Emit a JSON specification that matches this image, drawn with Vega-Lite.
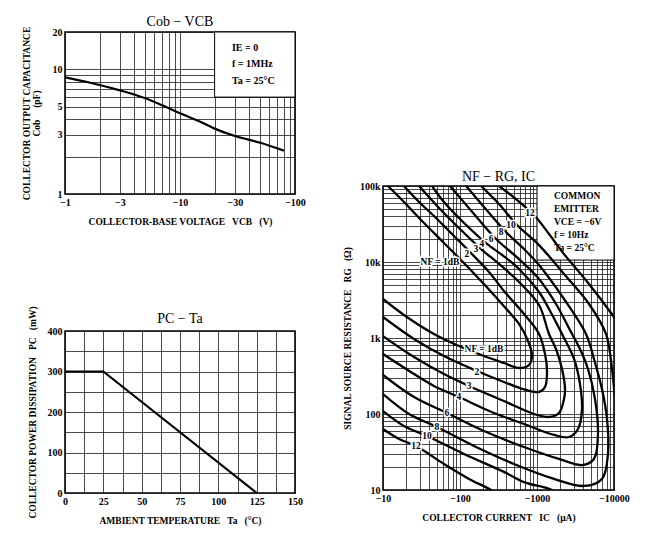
{
  "$schema": "https://vega.github.io/schema/vega-lite/v6.json",
  "background": "white",
  "padding": {"left": 20, "top": 14, "right": 5, "bottom": 5},
  "config": {
    "font": "Liberation Serif",
    "view": {"stroke": "black", "strokeWidth": 1.6},
    "axis": {
      "grid": true, "gridColor": "#1a1a1a", "gridOpacity": 1, "gridWidth": 0.8,
      "domain": false, "ticks": false,
      "labelFont": "Liberation Serif", "labelFontWeight": "bold", "labelFontSize": 10, "labelColor": "black",
      "labelPadding": 3, "labelFlush": false, "labelOverlap": false,
      "titleFont": "Liberation Serif", "titleFontWeight": "bold", "titleFontSize": 9.5, "titleColor": "black"
    },
    "title": {"font": "Liberation Serif", "fontSize": 14, "fontWeight": "normal", "color": "black", "offset": -3}
  },
  "datasets": {
    "cob": [
      {"x": 1, "y": 8.65}, {"x": 1.5, "y": 8.0}, {"x": 2, "y": 7.5}, {"x": 3, "y": 6.8}, {"x": 4, "y": 6.3},
      {"x": 5, "y": 5.87}, {"x": 7, "y": 5.16}, {"x": 10, "y": 4.45}, {"x": 15, "y": 3.8}, {"x": 20, "y": 3.35},
      {"x": 30, "y": 2.92}, {"x": 50, "y": 2.58}, {"x": 80, "y": 2.23}
    ],
    "cobBox": [{"x": 20, "x2": 100, "y": 6, "y2": 20}],
    "cobText": [
      {"x": 28.3, "y": 14.9, "t": "IE = 0"},
      {"x": 28.3, "y": 11.1, "t": "f = 1MHz"},
      {"x": 28.3, "y": 8.08, "t": "Ta = 25°C"}
    ],
    "pc": [{"x": 0, "y": 300}, {"x": 25, "y": 300}, {"x": 125, "y": 0}],
    "nfBox": [{"x": 1000, "x2": 10000, "y": 10600, "y2": 100000}],
    "nfText": [
      {"x": 1663, "y": 73800, "t": "COMMON"},
      {"x": 1663, "y": 50000, "t": "EMITTER"},
      {"x": 1663, "y": 33800, "t": "VCE = −6V"},
      {"x": 1663, "y": 22700, "t": "f = 10Hz"},
      {"x": 1663, "y": 15300, "t": "Ta = 25°C"}
    ],
    "nfLab": [
      {"x": 55, "y": 10000, "t": "NF = 1dB"},
      {"x": 123, "y": 12700, "t": "2"},
      {"x": 161, "y": 14800, "t": "3"},
      {"x": 193, "y": 17300, "t": "4"},
      {"x": 253, "y": 20100, "t": "6"},
      {"x": 341, "y": 24800, "t": "8"},
      {"x": 459, "y": 30700, "t": "10"},
      {"x": 811, "y": 44200, "t": "12"},
      {"x": 205, "y": 716, "t": "NF = 1dB"},
      {"x": 166, "y": 357, "t": "2"},
      {"x": 131, "y": 234, "t": "3"},
      {"x": 97, "y": 167, "t": "4"},
      {"x": 67.7, "y": 103, "t": "6"},
      {"x": 50.2, "y": 67.4, "t": "8"},
      {"x": 37.3, "y": 51.4, "t": "10"},
      {"x": 26.8, "y": 37.9, "t": "12"}
    ],
    "nf": [
      {"s": "1", "o": 1, "x": 11.6, "y": 100000}, {"s": "1", "o": 2, "x": 18.7, "y": 61600}, {"s": "1", "o": 3, "x": 34.1, "y": 32600},
      {"s": "1", "o": 4, "x": 61.9, "y": 17800}, {"s": "1", "o": 5, "x": 106, "y": 10300}, {"s": "1", "o": 6, "x": 193, "y": 5450},
      {"s": "1", "o": 7, "x": 351, "y": 2800}, {"s": "1", "o": 8, "x": 584, "y": 1530}, {"s": "1", "o": 9, "x": 764, "y": 914},
      {"s": "1", "o": 10, "x": 861, "y": 597}, {"s": "1", "o": 11, "x": 787, "y": 442}, {"s": "1", "o": 12, "x": 584, "y": 403},
      {"s": "1", "o": 13, "x": 372, "y": 469}, {"s": "1", "o": 14, "x": 205, "y": 579}, {"s": "1", "o": 15, "x": 97, "y": 785},
      {"s": "1", "o": 16, "x": 45.9, "y": 1130}, {"s": "1", "o": 17, "x": 18.7, "y": 2010}, {"s": "1", "o": 18, "x": 10, "y": 3260},

      {"s": "2", "o": 1, "x": 18.7, "y": 100000}, {"s": "2", "o": 2, "x": 29.4, "y": 61600}, {"s": "2", "o": 3, "x": 45.9, "y": 40300},
      {"s": "2", "o": 4, "x": 83.5, "y": 22000}, {"s": "2", "o": 5, "x": 143, "y": 12700}, {"s": "2", "o": 6, "x": 238, "y": 7390},
      {"s": "2", "o": 7, "x": 372, "y": 4160}, {"s": "2", "o": 8, "x": 678, "y": 2070}, {"s": "2", "o": 9, "x": 1062, "y": 1130},
      {"s": "2", "o": 10, "x": 1271, "y": 615}, {"s": "2", "o": 11, "x": 1349, "y": 368}, {"s": "2", "o": 12, "x": 1271, "y": 227},
      {"s": "2", "o": 13, "x": 1062, "y": 195}, {"s": "2", "o": 14, "x": 719, "y": 207}, {"s": "2", "o": 15, "x": 372, "y": 264},
      {"s": "2", "o": 16, "x": 166, "y": 368}, {"s": "2", "o": 17, "x": 61.9, "y": 579}, {"s": "2", "o": 18, "x": 25.3, "y": 970},
      {"s": "2", "o": 19, "x": 10, "y": 1890},

      {"s": "3", "o": 1, "x": 29.4, "y": 100000}, {"s": "3", "o": 2, "x": 53.4, "y": 51400}, {"s": "3", "o": 3, "x": 97, "y": 28000},
      {"s": "3", "o": 4, "x": 188, "y": 14800}, {"s": "3", "o": 5, "x": 321, "y": 9420}, {"s": "3", "o": 6, "x": 584, "y": 5450},
      {"s": "3", "o": 7, "x": 1062, "y": 2720}, {"s": "3", "o": 8, "x": 1432, "y": 1130}, {"s": "3", "o": 9, "x": 1766, "y": 716},
      {"s": "3", "o": 10, "x": 2113, "y": 391}, {"s": "3", "o": 11, "x": 2312, "y": 213}, {"s": "3", "o": 12, "x": 2244, "y": 158},
      {"s": "3", "o": 13, "x": 1932, "y": 103}, {"s": "3", "o": 14, "x": 1432, "y": 91.4}, {"s": "3", "o": 15, "x": 914, "y": 100},
      {"s": "3", "o": 16, "x": 372, "y": 148}, {"s": "3", "o": 17, "x": 131, "y": 234}, {"s": "3", "o": 18, "x": 61.9, "y": 336},
      {"s": "3", "o": 19, "x": 25.3, "y": 562}, {"s": "3", "o": 20, "x": 10, "y": 1060},

      {"s": "4", "o": 1, "x": 43.3, "y": 100000}, {"s": "4", "o": 2, "x": 61.9, "y": 61600}, {"s": "4", "o": 3, "x": 113, "y": 32600},
      {"s": "4", "o": 4, "x": 224, "y": 17300}, {"s": "4", "o": 5, "x": 351, "y": 12400}, {"s": "4", "o": 6, "x": 584, "y": 8100},
      {"s": "4", "o": 7, "x": 1062, "y": 4030}, {"s": "4", "o": 8, "x": 1432, "y": 2410}, {"s": "4", "o": 9, "x": 2113, "y": 1130},
      {"s": "4", "o": 10, "x": 3027, "y": 530}, {"s": "4", "o": 11, "x": 3617, "y": 248}, {"s": "4", "o": 12, "x": 3840, "y": 116},
      {"s": "4", "o": 13, "x": 3408, "y": 63.5}, {"s": "4", "o": 14, "x": 2606, "y": 49.8}, {"s": "4", "o": 15, "x": 1663, "y": 53},
      {"s": "4", "o": 16, "x": 678, "y": 73.9}, {"s": "4", "o": 17, "x": 277, "y": 103}, {"s": "4", "o": 18, "x": 97, "y": 167},
      {"s": "4", "o": 19, "x": 45.9, "y": 234}, {"s": "4", "o": 20, "x": 25.3, "y": 336}, {"s": "4", "o": 21, "x": 10, "y": 615},

      {"s": "6", "o": 1, "x": 74.1, "y": 100000}, {"s": "6", "o": 2, "x": 152, "y": 42900}, {"s": "6", "o": 3, "x": 294, "y": 20100},
      {"s": "6", "o": 4, "x": 584, "y": 10900}, {"s": "6", "o": 5, "x": 1062, "y": 5970}, {"s": "6", "o": 6, "x": 1766, "y": 2800},
      {"s": "6", "o": 7, "x": 2851, "y": 1130}, {"s": "6", "o": 8, "x": 3617, "y": 716}, {"s": "6", "o": 9, "x": 4593, "y": 391},
      {"s": "6", "o": 10, "x": 5662, "y": 158}, {"s": "6", "o": 11, "x": 6194, "y": 54.6}, {"s": "6", "o": 12, "x": 5495, "y": 25.6},
      {"s": "6", "o": 13, "x": 3840, "y": 21.3}, {"s": "6", "o": 14, "x": 1932, "y": 25.6}, {"s": "6", "o": 15, "x": 678, "y": 36.8},
      {"s": "6", "o": 16, "x": 205, "y": 59.8}, {"s": "6", "o": 17, "x": 67.7, "y": 103}, {"s": "6", "o": 18, "x": 25.3, "y": 167},
      {"s": "6", "o": 19, "x": 10, "y": 326},

      {"s": "8", "o": 1, "x": 120, "y": 100000}, {"s": "8", "o": 2, "x": 205, "y": 52900}, {"s": "8", "o": 3, "x": 395, "y": 24800},
      {"s": "8", "o": 4, "x": 678, "y": 14800}, {"s": "8", "o": 5, "x": 1062, "y": 9140}, {"s": "8", "o": 6, "x": 2244, "y": 3260},
      {"s": "8", "o": 7, "x": 4327, "y": 1130}, {"s": "8", "o": 8, "x": 5495, "y": 530}, {"s": "8", "o": 9, "x": 6982, "y": 213},
      {"s": "8", "o": 10, "x": 8110, "y": 86}, {"s": "8", "o": 11, "x": 8356, "y": 29.8}, {"s": "8", "o": 12, "x": 6982, "y": 14},
      {"s": "8", "o": 13, "x": 4076, "y": 11.3}, {"s": "8", "o": 14, "x": 1663, "y": 14}, {"s": "8", "o": 15, "x": 502, "y": 22},
      {"s": "8", "o": 16, "x": 152, "y": 37.9}, {"s": "8", "o": 17, "x": 50.2, "y": 67.4}, {"s": "8", "o": 18, "x": 21.8, "y": 100},
      {"s": "8", "o": 19, "x": 10, "y": 183},

      {"s": "10a", "o": 1, "x": 188, "y": 100000}, {"s": "10a", "o": 2, "x": 321, "y": 57900}, {"s": "10a", "o": 3, "x": 550, "y": 30700},
      {"s": "10a", "o": 4, "x": 1062, "y": 16700}, {"s": "10a", "o": 5, "x": 2244, "y": 6950}, {"s": "10a", "o": 6, "x": 4732, "y": 2800},
      {"s": "10a", "o": 7, "x": 7870, "y": 1130}, {"s": "10a", "o": 8, "x": 9418, "y": 391}, {"s": "10a", "o": 9, "x": 10620, "y": 116},
      {"s": "10a", "o": 10, "x": 12000, "y": 40},

      {"s": "10b", "o": 1, "x": 2244, "y": 7.6}, {"s": "10b", "o": 2, "x": 1567, "y": 10}, {"s": "10b", "o": 3, "x": 678, "y": 12.7},
      {"s": "10b", "o": 4, "x": 372, "y": 17.3}, {"s": "10b", "o": 5, "x": 113, "y": 29.8}, {"s": "10b", "o": 6, "x": 37.3, "y": 51.4},
      {"s": "10b", "o": 7, "x": 18.7, "y": 69.5}, {"s": "10b", "o": 8, "x": 10, "y": 109},

      {"s": "12a", "o": 1, "x": 321, "y": 100000}, {"s": "12a", "o": 2, "x": 533, "y": 67400}, {"s": "12a", "o": 3, "x": 914, "y": 41500},
      {"s": "12a", "o": 4, "x": 1432, "y": 23400}, {"s": "12a", "o": 5, "x": 2244, "y": 12700}, {"s": "12a", "o": 6, "x": 4732, "y": 5140},
      {"s": "12a", "o": 7, "x": 10000, "y": 1890}, {"s": "12a", "o": 8, "x": 15670, "y": 970},

      {"s": "12b", "o": 1, "x": 372, "y": 7.6}, {"s": "12b", "o": 2, "x": 253, "y": 10}, {"s": "12b", "o": 3, "x": 131, "y": 14},
      {"s": "12b", "o": 4, "x": 61.9, "y": 22}, {"s": "12b", "o": 5, "x": 26.8, "y": 37.9}, {"s": "12b", "o": 6, "x": 16.2, "y": 46.9},
      {"s": "12b", "o": 7, "x": 10, "y": 63.5}
    ]
  },
  "hconcat": [
    {
      "spacing": 78,
      "vconcat": [
        {
          "width": 230, "height": 162,
          "title": "Cob − VCB",
          "encoding": {
            "x": {"field": "x", "type": "quantitative",
              "scale": {"type": "log", "domain": [1, 100], "nice": false},
              "axis": {"values": [1,2,3,4,5,6,7,8,9,10,20,30,40,50,60,70,80,90,100],
                "labelExpr": "indexof([1,3,10,30,100], datum.value) >= 0 ? '−' + datum.value : ''",
                "title": "COLLECTOR-BASE VOLTAGE\u00a0\u00a0\u00a0VCB\u00a0\u00a0\u00a0(V)", "titlePadding": 9}},
            "y": {"field": "y", "type": "quantitative",
              "scale": {"type": "log", "domain": [1, 20], "nice": false},
              "axis": {"values": [1,2,3,4,5,6,7,8,9,10,20],
                "labelExpr": "indexof([1,3,5,10,20], datum.value) >= 0 ? '' + datum.value : ''",
                "title": ["COLLECTOR OUTPUT CAPACITANCE", "Cob\u00a0\u00a0\u00a0\u00a0\u00a0(pF)"], "titlePadding": 11, "titleLineHeight": 10}}
          },
          "layer": [
            {"data": {"name": "cobBox"}, "mark": {"type": "rect", "fill": "white", "stroke": "black", "strokeWidth": 1},
             "encoding": {"x2": {"field": "x2"}, "y2": {"field": "y2"}}},
            {"data": {"name": "cob"}, "mark": {"type": "line", "color": "black", "strokeWidth": 2.2, "interpolate": "monotone"}, "encoding": {}},
            {"data": {"name": "cobText"}, "mark": {"type": "text", "align": "left", "baseline": "middle", "fontSize": 10, "fontWeight": "bold", "font": "Liberation Serif", "color": "black"},
             "encoding": {"text": {"field": "t"}}}
          ]
        },
        {
          "width": 230, "height": 162,
          "title": {"text": "PC − Ta", "offset": -20},
          "data": {"name": "pc"},
          "mark": {"type": "line", "color": "black", "strokeWidth": 2.2},
          "encoding": {
            "x": {"field": "x", "type": "quantitative",
              "scale": {"domain": [0, 150], "nice": false, "zero": false},
              "axis": {"values": [0,12.5,25,37.5,50,62.5,75,87.5,100,112.5,125,137.5,150],
                "labelExpr": "datum.value % 25 === 0 ? '' + datum.value : ''",
                "title": "AMBIENT TEMPERATURE\u00a0\u00a0\u00a0Ta\u00a0\u00a0\u00a0(°C)", "titlePadding": 9}},
            "y": {"field": "y", "type": "quantitative",
              "scale": {"domain": [0, 400], "nice": false},
              "axis": {"values": [0,50,100,150,200,250,300,350,400],
                "labelExpr": "datum.value % 100 === 0 ? '' + datum.value : ''",
                "title": "COLLECTOR POWER DISSIPATION\u00a0\u00a0\u00a0PC\u00a0\u00a0\u00a0(mW)", "titlePadding": 10}}
          }
        }
      ]
    },
    {
      "spacing": 0,
      "vconcat": [
        {"width": 231, "height": 137, "data": {"values": [{}]}, "mark": {"type": "point", "opacity": 0}, "view": {"stroke": null}},
        {
          "width": 231, "height": 304,
          "title": "NF − RG, IC",
          "encoding": {
            "x": {"field": "x", "type": "quantitative",
              "scale": {"type": "log", "domain": [10, 10000], "nice": false},
              "axis": {"values": [10,20,30,40,50,60,70,80,90,100,200,300,400,500,600,700,800,900,1000,2000,3000,4000,5000,6000,7000,8000,9000,10000],
                "labelExpr": "indexof([10,100,1000,10000], datum.value) >= 0 ? '−' + datum.value : ''",
                "title": "COLLECTOR CURRENT\u00a0\u00a0\u00a0IC\u00a0\u00a0\u00a0(μA)", "titlePadding": 9}},
            "y": {"field": "y", "type": "quantitative",
              "scale": {"type": "log", "domain": [10, 100000], "nice": false},
              "axis": {"values": [10,20,30,40,50,60,70,80,90,100,200,300,400,500,600,700,800,900,1000,2000,3000,4000,5000,6000,7000,8000,9000,10000,20000,30000,40000,50000,60000,70000,80000,90000,100000],
                "labelExpr": "indexof([10,100,1000,10000,100000], datum.value) >= 0 ? (datum.value >= 1000 ? (datum.value / 1000) + 'k' : '' + datum.value) : ''",
                "title": "SIGNAL SOURCE RESISTANCE\u00a0\u00a0\u00a0RG\u00a0\u00a0\u00a0(Ω)", "titlePadding": 7}}
          },
          "layer": [
            {"data": {"name": "nfBox"}, "mark": {"type": "rect", "fill": "white", "stroke": "black", "strokeWidth": 1},
             "encoding": {"x2": {"field": "x2"}, "y2": {"field": "y2"}}},
            {"data": {"name": "nf"}, "mark": {"type": "line", "color": "black", "strokeWidth": 2.3, "clip": true, "interpolate": "catmull-rom"},
             "encoding": {"detail": {"field": "s", "type": "nominal"}, "order": {"field": "o", "type": "quantitative"}}},
            {"data": {"name": "nfLab"}, "mark": {"type": "text", "fontSize": 9.5, "fontWeight": "bold", "fill": "white", "stroke": "white", "strokeWidth": 3},
             "encoding": {"text": {"field": "t"}}},
            {"data": {"name": "nfLab"}, "mark": {"type": "text", "fontSize": 9.5, "fontWeight": "bold", "color": "black"},
             "encoding": {"text": {"field": "t"}}},
            {"data": {"name": "nfText"}, "mark": {"type": "text", "align": "left", "fontSize": 9.5, "fontWeight": "bold", "color": "black"},
             "encoding": {"text": {"field": "t"}}}
          ]
        }
      ]
    }
  ],
  "spacing": 34
}
